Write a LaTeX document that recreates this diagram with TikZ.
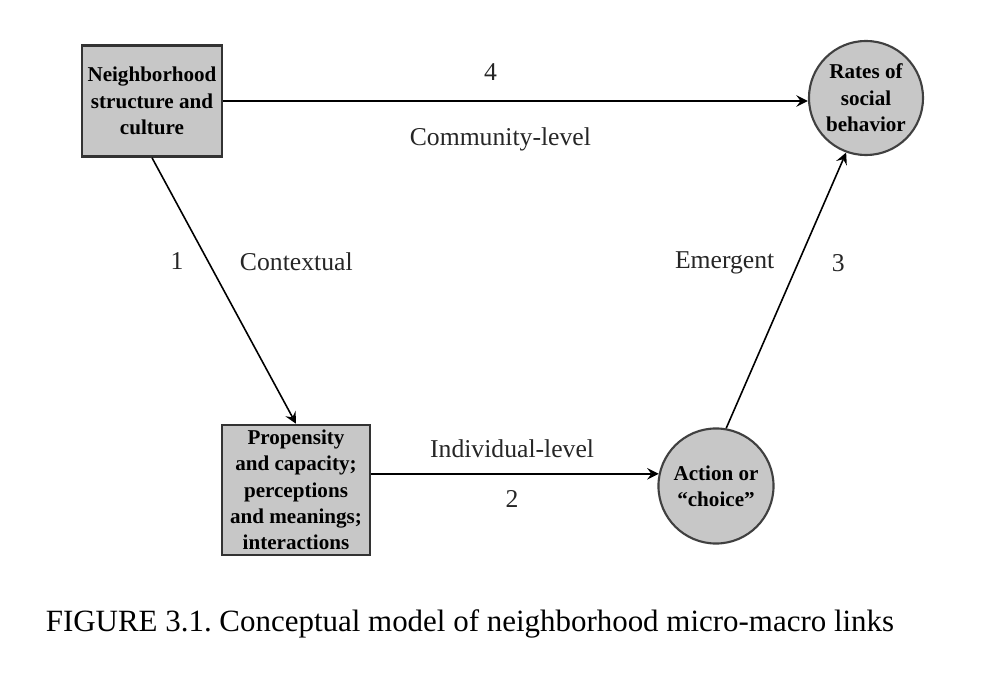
\documentclass[tikz,border=0pt]{standalone}
\usepackage{fontspec}
\setmainfont{Liberation Serif}
\usetikzlibrary{shapes.geometric,calc}

\tikzset{
  levelbox/.style={draw=black!80,line width=0.7pt,fill=black!22,align=center,
    font=\fontsize{6}{7.5}\selectfont\bfseries,inner sep=1pt},
  levelcircle/.style={circle,draw=black!75,line width=0.6pt,fill=black!22,align=center,
    font=\fontsize{6}{7.5}\selectfont\bfseries,minimum size=1.15cm,inner sep=0pt},
  link/.style={line width=0.45pt,->,>=stealth},
  linklabel/.style={font=\fontsize{7.3}{8}\selectfont,inner sep=0pt,text=black!85}
}

\begin{document}
\frenchspacing
\begin{tikzpicture}[x=0.01cm,y=-0.01cm]
  \useasboundingbox (0,0) rectangle (993,679);
  \node [levelbox,minimum width=1.40cm,minimum height=1.11cm] (neigh) at (152,101)
    {Neighborhood\\structure and\\culture};
  \node [levelbox,minimum width=1.48cm,minimum height=1.30cm] (prop) at (296,490)
    {Propensity\\and capacity;\\perceptions\\and meanings;\\interactions};
  \node [levelcircle] (action) at (716,486) {Action or\\``choice''};
  \node [levelcircle,minimum size=1.14cm] (rates) at (866,98) {Rates of\\social\\behavior};

  \draw [link] (neigh.east) -- (neigh.east -| rates.west)
    node [linklabel,pos=.457,above=0.20cm] (l4) {4}
    node [linklabel,pos=.474,below=0.26cm] (lcomm) {Community-level};
  \draw [link] (neigh.south) -- (prop.north)
    node [linklabel,pos=.39,left=0.24cm] (l1) {1}
    node [linklabel,pos=.39,right=0.31cm] (lctx) {Contextual};
  \draw [link] (prop.east |- action.168) -- (action.168)
    node [linklabel,pos=.49,above=0.155cm] (lind) {Individual-level}
    node [linklabel,pos=.49,below=0.155cm] (l2) {2};
  \draw [link] (action.80) -- (rates.250)
    node [linklabel,pos=.6,left=0.23cm] (lemer) {Emergent}
    node [linklabel,pos=.6,right=0.33cm] (l3) {3};

  \node [font=\fontsize{8.8}{10}\selectfont,inner sep=0pt] (caption) at (470,624)
    {FIGURE 3.1. Conceptual model of neighborhood micro-macro links};
\end{tikzpicture}
\end{document}
